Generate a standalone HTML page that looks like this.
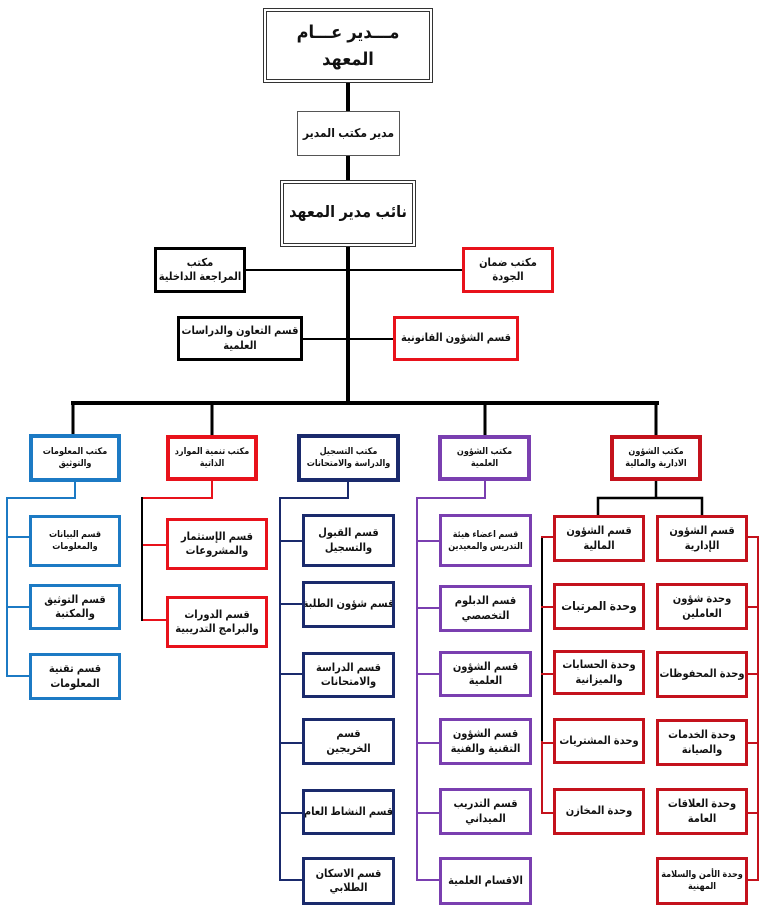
<!DOCTYPE html>
<html><head><meta charset="utf-8"><style>
body{margin:0;width:768px;height:913px;background:#fff;position:relative;overflow:hidden;font-family:"Liberation Sans","DejaVu Sans Condensed","DejaVu Sans",sans-serif;}
.b{position:absolute;box-sizing:border-box;display:flex;align-items:center;justify-content:center;text-align:center;direction:rtl;font-weight:bold;color:#111;font-size:11px;line-height:1.3;background:#fff;border:3px solid #000;white-space:nowrap;overflow:hidden;letter-spacing:-0.3px}
.s{font-size:9px;}
.bl{border-color:#1c7ac4}.rd{border-color:#e8121b}.nv{border-color:#1a2a6c}.pu{border-color:#7a3fb0}.dr{border-color:#c4121c}
svg{position:absolute;left:0;top:0}
</style></head><body>
<svg width="768" height="913">
<g fill="none" stroke-linecap="square">
<line x1="348" y1="83" x2="348" y2="403" stroke="#000" stroke-width="4"/>
<line x1="246" y1="270" x2="462" y2="270" stroke="#000" stroke-width="2"/>
<line x1="303" y1="339" x2="393" y2="339" stroke="#000" stroke-width="2"/>
<line x1="73" y1="403" x2="657" y2="403" stroke="#000" stroke-width="4"/>
<line x1="73" y1="403" x2="73" y2="435" stroke="#000" stroke-width="3"/>
<line x1="212" y1="403" x2="212" y2="435" stroke="#000" stroke-width="3"/>
<line x1="485" y1="403" x2="485" y2="435" stroke="#000" stroke-width="3"/>
<line x1="656" y1="403" x2="656" y2="435" stroke="#000" stroke-width="3"/>
<path d="M75 482V498H7V676M7 537H29M7 607H29M7 676H29" stroke="#1c7ac4" stroke-width="2"/>
<path d="M212 481V498H142M142 545H166M142 620H166" stroke="#e8121b" stroke-width="2"/>
<line x1="142" y1="498" x2="142" y2="620" stroke="#000" stroke-width="2"/>
<path d="M348 482V498H280V880M280 541H303M280 604H303M280 674H303M280 743H303M280 813H303M280 880H303" stroke="#1a2a6c" stroke-width="2"/>
<path d="M485 481V498H417V880M417 541H439M417 608H439M417 674H439M417 743H439M417 813H439M417 880H439" stroke="#7a3fb0" stroke-width="2"/>
<path d="M656 481V498M598 498H702M598 498V515M702 498V515" stroke="#000" stroke-width="2.5"/>
<line x1="542" y1="537" x2="542" y2="742" stroke="#000" stroke-width="2"/>
<path d="M554 537H542M542 742V813M542 607H554M542 674H554M542 743H554M542 813H554" stroke="#c4121c" stroke-width="2"/>
<path d="M748 537H758V880M748 607H758M748 674H758M748 743H758M748 813H758M748 880H758" stroke="#c4121c" stroke-width="2"/>
</g></svg>
<div class="b" style="left:263px;top:8px;width:170px;height:75px;border:4px double #333;font-size:18px;line-height:1.5">مـــدير عـــام<br>المعهد</div>
<div class="b" style="left:297px;top:111px;width:103px;height:45px;border:1.5px solid #555;font-size:12px">مدير مكتب المدير</div>
<div class="b" style="left:280px;top:180px;width:136px;height:67px;border:4px double #333;font-size:16px">نائب مدير المعهد</div>
<div class="b" style="left:154px;top:247px;width:92px;height:46px">مكتب<br>المراجعة الداخلية</div>
<div class="b rd" style="left:462px;top:247px;width:92px;height:46px">مكتب ضمان<br>الجودة</div>
<div class="b" style="left:177px;top:316px;width:126px;height:45px">قسم التعاون والدراسات<br>العلمية</div>
<div class="b rd" style="left:393px;top:316px;width:126px;height:45px">قسم الشؤون القانونية</div>

<div class="b bl s" style="left:29px;top:434px;width:92px;height:48px;border-width:4px">مكتب المعلومات<br>والتوثيق</div>
<div class="b rd s" style="left:166px;top:435px;width:92px;height:46px;border-width:4px">مكتب تنمية الموارد<br>الذاتية</div>
<div class="b nv s" style="left:297px;top:434px;width:103px;height:48px;border-width:4px">مكتب التسجيل<br>والدراسة والامتحانات</div>
<div class="b pu s" style="left:438px;top:435px;width:93px;height:46px;border-width:4px">مكتب الشؤون<br>العلمية</div>
<div class="b dr s" style="left:610px;top:435px;width:92px;height:46px;border-width:4px">مكتب الشؤون<br>الادارية والمالية</div>

<div class="b bl s" style="left:29px;top:515px;width:92px;height:52px">قسم البيانات<br>والمعلومات</div>
<div class="b bl" style="left:29px;top:584px;width:92px;height:46px">قسم التوثيق<br>والمكتبة</div>
<div class="b bl" style="left:29px;top:653px;width:92px;height:47px">قسم تقنية<br>المعلومات</div>

<div class="b rd" style="left:166px;top:518px;width:102px;height:52px">قسم الإستثمار<br>والمشروعات</div>
<div class="b rd" style="left:166px;top:596px;width:102px;height:52px">قسم الدورات<br>والبرامج التدريبية</div>

<div class="b nv" style="left:302px;top:514px;width:93px;height:53px">قسم القبول<br>والتسجيل</div>
<div class="b nv" style="left:302px;top:581px;width:93px;height:47px">قسم شؤون الطلبة</div>
<div class="b nv" style="left:302px;top:652px;width:93px;height:46px">قسم الدراسة<br>والامتحانات</div>
<div class="b nv" style="left:302px;top:718px;width:93px;height:47px">قسم<br>الخريجين</div>
<div class="b nv" style="left:302px;top:789px;width:93px;height:46px">قسم النشاط العام</div>
<div class="b nv" style="left:302px;top:857px;width:93px;height:48px">قسم الاسكان<br>الطلابي</div>

<div class="b pu s" style="left:439px;top:514px;width:93px;height:53px">قسم اعضاء هيئة<br>التدريس والمعيدين</div>
<div class="b pu" style="left:439px;top:585px;width:93px;height:47px">قسم الدبلوم<br>التخصصي</div>
<div class="b pu" style="left:439px;top:651px;width:93px;height:46px">قسم الشؤون<br>العلمية</div>
<div class="b pu" style="left:439px;top:718px;width:93px;height:47px">قسم الشؤون<br>التقنية والفنية</div>
<div class="b pu" style="left:439px;top:788px;width:93px;height:47px">قسم التدريب<br>الميداني</div>
<div class="b pu" style="left:439px;top:857px;width:93px;height:48px">الاقسام العلمية</div>

<div class="b dr" style="left:553px;top:515px;width:92px;height:47px">قسم الشؤون<br>المالية</div>
<div class="b dr" style="left:553px;top:583px;width:92px;height:47px;font-size:12px">وحدة المرتبات</div>
<div class="b dr" style="left:553px;top:650px;width:92px;height:45px">وحدة الحسابات<br>والميزانية</div>
<div class="b dr" style="left:553px;top:718px;width:92px;height:46px">وحدة المشتريات</div>
<div class="b dr" style="left:553px;top:788px;width:92px;height:47px">وحدة المخازن</div>

<div class="b dr" style="left:656px;top:515px;width:92px;height:47px">قسم الشؤون<br>الإدارية</div>
<div class="b dr" style="left:656px;top:583px;width:92px;height:47px">وحدة شؤون<br>العاملين</div>
<div class="b dr" style="left:656px;top:651px;width:92px;height:47px">وحدة المحفوظات</div>
<div class="b dr" style="left:656px;top:719px;width:92px;height:47px">وحدة الخدمات<br>والصيانة</div>
<div class="b dr" style="left:656px;top:788px;width:92px;height:47px">وحدة العلاقات<br>العامة</div>
<div class="b dr s" style="left:656px;top:857px;width:92px;height:48px">وحدة الأمن والسلامة<br>المهنية</div>
</body></html>
